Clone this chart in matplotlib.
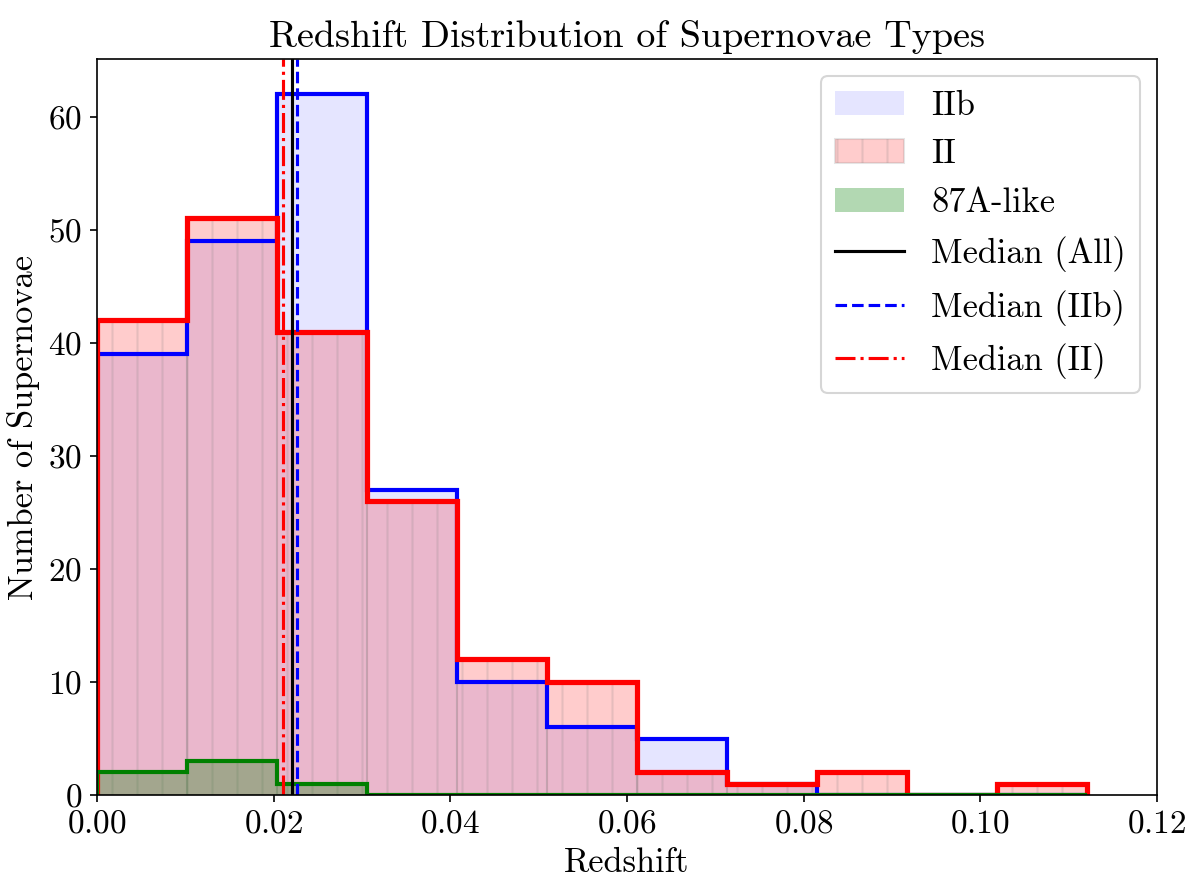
import numpy as np
import matplotlib
matplotlib.use("Agg")
import matplotlib.pyplot as plt

plt.rcParams['font.family'] = 'serif'
plt.rcParams['font.serif'] = ['cmr10']
plt.rcParams['mathtext.fontset'] = 'cm'
plt.rcParams['axes.formatter.use_mathtext'] = True
plt.rcParams['axes.unicode_minus'] = False
plt.rcParams['font.size'] = 16

### histogram bins (11 equal bins)
bin_edges = np.linspace(0.0, 0.1121, 12)

### counts per bin
counts_IIb = [39, 49, 62, 27, 10, 6, 5, 1, 0, 0, 0]
counts_II = [42, 51, 41, 26, 12, 10, 2, 1, 2, 0, 1]
counts_87A = [2, 3, 1, 0, 0, 0, 0, 0, 0, 0, 0]

### medians
median_all = 0.0221
median_IIb = 0.0227
median_II = 0.0211

centers = 0.5 * (bin_edges[:-1] + bin_edges[1:])

fig = plt.figure(figsize=(8, 5.9667), dpi=150)
ax = fig.add_axes([0.0808, 0.1117, 0.8834, 0.8223])

# filled bars
ax.hist(centers, bins=bin_edges, weights=counts_IIb, color='blue', alpha=0.1, label='IIb')
ax.hist(centers, bins=bin_edges, weights=counts_II, color='red', alpha=0.2,
        hatch='|', edgecolor='gray', label='II')
ax.hist(centers, bins=bin_edges, weights=counts_87A, color='green', alpha=0.3, label='87A-like')

# outlines
ax.hist(centers, bins=bin_edges, weights=counts_IIb, histtype='step', color='blue', lw=2)
ax.hist(centers, bins=bin_edges, weights=counts_II, histtype='step', color='red', lw=2.5)
ax.hist(centers, bins=bin_edges, weights=counts_87A, histtype='step', color='green', lw=2)

ax.axvline(median_all, color='black', ls='-', lw=1.5, label='Median (All)')
ax.axvline(median_IIb, color='blue', ls='--', lw=1.5, label='Median (IIb)')
ax.axvline(median_II, color='red', ls='-.', lw=1.5, label='Median (II)')

ax.set_xlim(0, 0.12)
ax.set_xlabel('Redshift', fontsize=16.5)
ax.set_ylabel('Number of Supernovae', fontsize=16.5)
ax.set_title('Redshift Distribution of Supernovae Types', fontsize=18.3)
ax.legend(loc='upper right', fontsize=16.5)

fig.savefig('out.png', dpi=150)
